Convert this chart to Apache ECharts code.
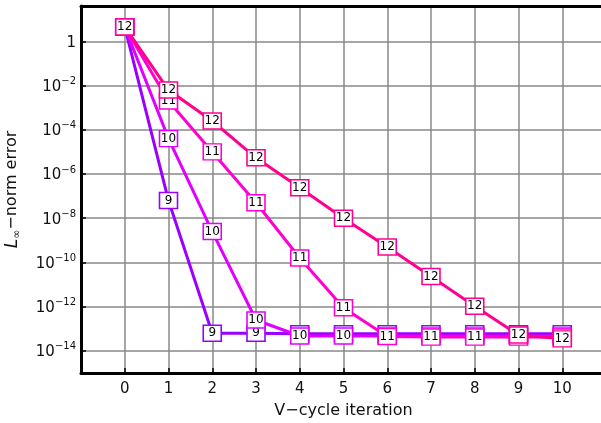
<!DOCTYPE html>
<html><head><meta charset="utf-8">
<script src="https://cdn.jsdelivr.net/npm/echarts@6/dist/echarts.min.js"></script>
<style>html,body{margin:0;padding:0;background:#fff}#c{width:601px;height:423px}</style>
</head><body><div id="c"></div>
<script>
const iterations = [0, 1, 2, 3, 4, 5, 6, 7, 8, 9, 10];
const levelNames = ['9', '10', '11', '12'];
const err9  = [4.5, 6.3e-8, 6.3e-14, 6.3e-14, 6.0e-14, 6.0e-14, 6.0e-14, 6.0e-14, 6.0e-14, 6.0e-14, 6.0e-14];
const err10 = [4.5, 4.0e-5, 2.5e-9, 2.5e-13, 4.7e-14, 4.7e-14, 4.7e-14, 4.7e-14, 4.7e-14, 4.7e-14, 4.7e-14];
const err11 = [4.5, 2.0e-3, 1.0e-5, 5.0e-8, 1.6e-10, 8.9e-13, 4.5e-14, 4.2e-14, 4.2e-14, 4.2e-14, 4.2e-14];
const err12 = [4.5, 6.3e-3, 2.5e-4, 5.4e-6, 2.4e-7, 1.0e-8, 5.0e-10, 2.3e-11, 1.05e-12, 5.2e-14, 3.5e-14];
const xTickLabels = ['0', '1', '2', '3', '4', '5', '6', '7', '8', '9', '10'];
const yTickExponents = [0, -2, -4, -6, -8, -10, -12, -14];
const colors = ['#9a00ff', '#e000ff', '#ff00d0', '#ff0090'];

const FONT = 'DejaVu Sans';
const allErr = [err9, err10, err11, err12];

function mkSeries(name, data, color, k) {
  return {
    name: name, type: 'line', z: 3 + k,
    data: data.map((v, i) => [iterations[i], v]),
    symbol: 'rect', symbolSize: [18, 16], showAllSymbol: true,
    lineStyle: { color: color, width: 3 },
    itemStyle: { color: '#fff', borderColor: color, borderWidth: 1.5 },
    label: { show: true, position: 'inside', formatter: name, color: '#000', fontSize: 12, fontFamily: FONT },
    emphasis: { disabled: true },
    animation: false
  };
}

const chart = echarts.init(document.getElementById('c'), null, { renderer: 'canvas' });
chart.setOption({
  animation: false,
  grid: { left: 81, top: 6, width: 525, height: 367, containLabel: false, outerBoundsMode: 'none' },
  xAxis: [{
    type: 'value', min: -1, max: 11, interval: 1,
    name: 'V\u2212cycle iteration', nameLocation: 'middle', nameGap: 30,
    nameTextStyle: { fontSize: 16, color: '#111', fontFamily: FONT },
    axisLine: { show: true, onZero: false, lineStyle: { color: '#000', width: 3 } },
    axisTick: { show: true, inside: true, length: 5, lineStyle: { color: '#000', width: 1.5 } },
    axisLabel: {
      fontSize: 15, color: '#111', fontFamily: FONT, margin: 9,
      formatter: function (v) { const i = iterations.indexOf(v); return i >= 0 ? xTickLabels[i] : ''; }
    },
    splitLine: { show: true, lineStyle: { color: '#888', width: 1.5 } }
  }, {
    type: 'value', position: 'top', min: -1, max: 11, interval: 1,
    axisLine: { show: true, onZero: false, lineStyle: { color: '#000', width: 3 } },
    axisTick: { show: false }, axisLabel: { show: false }, splitLine: { show: false }
  }],
  yAxis: {
    type: 'log', logBase: 100, min: 1e-15, max: Math.pow(10, 1.6), splitNumber: 8,
    name: '{i|L}{sub|\u221E}{n|\u2212norm error}', nameLocation: 'middle', nameGap: 58, nameRotate: 90,
    nameTextStyle: {
      color: '#111', fontFamily: FONT,
      rich: {
        i: { fontSize: 17, fontStyle: 'italic', fontFamily: FONT, color: '#111', lineHeight: 19, verticalAlign: 'top' },
        sub: { fontSize: 11, fontFamily: FONT, color: '#111', lineHeight: 10, verticalAlign: 'bottom' },
        n: { fontSize: 16, fontFamily: FONT, color: '#111', lineHeight: 19, verticalAlign: 'top' }
      }
    },
    axisLine: { show: true, onZero: false, lineStyle: { color: '#000', width: 3 } },
    axisTick: { show: true, inside: true, length: 5, lineStyle: { color: '#000', width: 1.5 } },
    axisLabel: {
      margin: 5, color: '#111', fontFamily: FONT,
      formatter: function (v) {
        const l = Math.log10(v); const e = Math.round(l);
        if (Math.abs(l - e) > 1e-6 || yTickExponents.indexOf(e) < 0) return '';
        if (e === 0) return '{b|1}';
        return '{b|10}{s|\u2212' + (-e) + '}';
      },
      rich: {
        b: { fontSize: 15, fontFamily: FONT, color: '#111', lineHeight: 18, verticalAlign: 'bottom' },
        s: { fontSize: 10, fontFamily: FONT, color: '#111', lineHeight: 10, verticalAlign: 'top' }
      }
    },
    splitLine: { show: true, lineStyle: { color: '#888', width: 1.5 } }
  },
  series: levelNames.map((n, k) => mkSeries(n, allErr[k], colors[k], k))
});
</script>
</body></html>
